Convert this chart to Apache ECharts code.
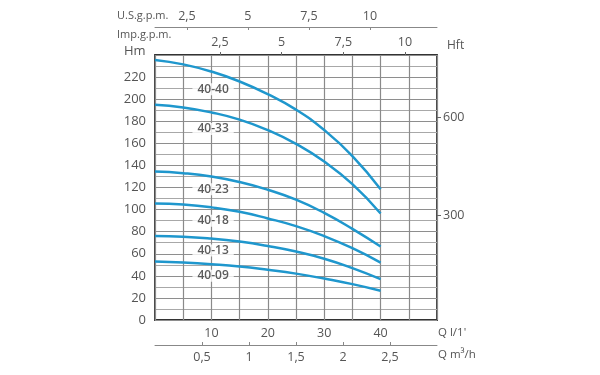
<!DOCTYPE html>
<html>
<head>
<meta charset="utf-8">
<script src="https://cdn.jsdelivr.net/npm/echarts@6/dist/echarts.min.js"></script>
<style>
html,body{margin:0;padding:0;background:#fff;}
#c{width:600px;height:375px;}
</style>
</head>
<body>
<div id="c"></div>
<script>
// ---- data ----
const qLpm = [0, 5, 10, 15, 20, 25, 30, 35, 40];
const h4040 = [235.5, 231.5, 225, 216, 204.5, 190.5, 172, 148.5, 118.5];
const h4033 = [195, 192.5, 188, 181.5, 172, 159.5, 143.5, 123, 96.5];
const h4023 = [134.5, 133, 130, 125, 118, 109, 97, 82.5, 66.5];
const h4018 = [105.5, 104.5, 102, 98, 92, 85, 76, 65, 52];
const h4013 = [76, 75.5, 73.8, 71, 67, 62, 55.5, 47, 37];
const h4009 = [53, 52, 50.5, 48.5, 45.5, 42, 37.5, 32.5, 26.5];
const curveNames = ['40-40', '40-33', '40-23', '40-18', '40-13', '40-09'];
const labelQ = [10.3, 10.3, 10.3, 10.3, 10.3, 10.3];
const labelH = [209, 173, 118.5, 90, 63, 40];
const lpmTicks = [10, 20, 30, 40];
const m3hTicks = [0.5, 1, 1.5, 2, 2.5];
const usTicks = [2.5, 5, 7.5, 10];
const impTicks = [2.5, 5, 7.5, 10];
const hftTicks = [300, 600];

const curves = [h4040, h4033, h4023, h4018, h4013, h4009];
const FONT = '"Open Sans", "Noto Sans", sans-serif';
const TXT = '#555';
const BLUE = '#1f97cd';
const comma = v => String(v).replace('.', ',');

const chart = echarts.init(document.getElementById('c'), null, {renderer: 'canvas'});

const series = curves.map((h, i) => ({
  type: 'line',
  name: curveNames[i],
  xAxisIndex: 0, yAxisIndex: 0,
  data: qLpm.map((q, j) => [q, h[j]]),
  showSymbol: false,
  smooth: 0.5,
  lineStyle: {color: BLUE, width: 2.5},
  z: 3
}));
series.push({
  type: 'scatter',
  xAxisIndex: 0, yAxisIndex: 0,
  symbolSize: 0.1,
  itemStyle: {color: 'rgba(0,0,0,0)'},
  silent: true,
  z: 5,
  data: labelQ.map((q, i) => ({name: curveNames[i], value: [q, labelH[i]]})),
  label: {
    show: true, position: 'inside', formatter: '{b}',
    color: '#333', fontFamily: FONT, fontSize: 12, fontWeight: 600,
    backgroundColor: '#fff', padding: [0, 5]
  }
});

chart.setOption({
  animation: false,
  backgroundColor: '#fff',
  grid: {left: 155, top: 55, width: 282, height: 265,
         show: true, borderColor: '#333', borderWidth: 1.8, backgroundColor: 'transparent',
         containLabel: false, outerBoundsMode: 'none'},
  xAxis: [
    { // Q l/min
      type: 'value', position: 'bottom', min: 0, max: 50, interval: 5,
      axisLine: {show: false, onZero: false}, axisTick: {show: false},
      axisLabel: {color: TXT, fontFamily: FONT, fontSize: 12.5, margin: 7,
        formatter: v => lpmTicks.indexOf(v) >= 0 ? String(v) : ''},
      splitLine: {show: true, lineStyle: {color: '#8a8a8a', width: 1.2}}
    },
    { // Q m3/h
      type: 'value', position: 'bottom', offset: 25, min: 0, max: 3,
      axisLine: {show: true, onZero: false, lineStyle: {color: '#888', width: 1}},
      axisTick: {show: true, inside: true, length: 3, customValues: m3hTicks, lineStyle: {color: '#888'}},
      axisLabel: {color: TXT, fontFamily: FONT, fontSize: 12.5, margin: 6,
        customValues: m3hTicks, formatter: comma},
      splitLine: {show: false}
    },
    { // U.S. gpm
      type: 'value', position: 'top', offset: 28, min: 1.19, max: 12.75,
      axisLine: {show: true, onZero: false, lineStyle: {color: '#888', width: 1}},
      axisTick: {show: true, inside: true, length: 3, customValues: usTicks, lineStyle: {color: '#888'}},
      axisLabel: {color: TXT, fontFamily: FONT, fontSize: 12.5, margin: 4,
        customValues: usTicks, formatter: comma},
      splitLine: {show: false}
    },
    { // Imp gpm
      type: 'value', position: 'top', offset: 0, min: -0.134, max: 11.3,
      axisLine: {show: false, onZero: false},
      axisTick: {show: true, inside: false, length: 3, customValues: impTicks, lineStyle: {color: '#666'}},
      axisLabel: {color: TXT, fontFamily: FONT, fontSize: 12.5, margin: 6,
        customValues: impTicks, formatter: comma},
      splitLine: {show: false}
    }
  ],
  yAxis: [
    { // Hm
      type: 'value', position: 'left', min: 0, max: 240, interval: 20,
      axisLine: {show: false, onZero: false}, axisTick: {show: false},
      axisLabel: {color: TXT, fontFamily: FONT, fontSize: 13, margin: 9,
        formatter: v => v <= 220 ? String(v) : ''},
      splitLine: {show: true, lineStyle: {color: '#8e8e8e', width: 1}},
      minorTick: {show: false, splitNumber: 2},
      minorSplitLine: {show: true, lineStyle: {color: '#a8a8a8', width: 1}}
    },
    { // Hft
      type: 'value', position: 'right', min: -19.3, max: 792,
      axisLine: {show: false, onZero: false},
      axisTick: {show: true, inside: false, length: 4, customValues: hftTicks, lineStyle: {color: '#666'}},
      axisLabel: {color: TXT, fontFamily: FONT, fontSize: 12.5, margin: 6,
        customValues: hftTicks},
      splitLine: {show: false}
    }
  ],
  graphic: [
    {type: 'text', x: 117, y: 16, style: {text: 'U.S.g.p.m.', font: '11px ' + FONT, fill: TXT, verticalAlign: 'middle', textVerticalAlign: 'middle'}},
    {type: 'text', x: 117, y: 35, style: {text: 'Imp.g.p.m.', font: '11px ' + FONT, fill: TXT, verticalAlign: 'middle', textVerticalAlign: 'middle'}},
    {type: 'text', x: 124, y: 51, style: {text: 'Hm', font: '13px ' + FONT, fill: TXT, verticalAlign: 'middle', textVerticalAlign: 'middle'}},
    {type: 'text', x: 447, y: 46, style: {text: 'Hft', font: '12px ' + FONT, fill: TXT, verticalAlign: 'middle', textVerticalAlign: 'middle'}},
    {type: 'text', x: 438, y: 333, style: {text: "Q l/1'", font: '11.5px ' + FONT, fill: TXT, verticalAlign: 'middle', textVerticalAlign: 'middle'}},
    {type: 'text', x: 438, y: 355, style: {text: 'Q m³/h', font: '11.5px ' + FONT, fill: TXT, verticalAlign: 'middle', textVerticalAlign: 'middle'}}
  ],
  series: series
});
</script>
</body>
</html>
